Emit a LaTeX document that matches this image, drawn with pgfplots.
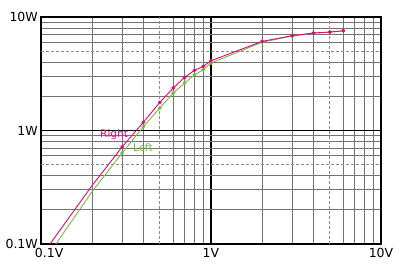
\documentclass[border=0pt]{standalone}
\usepackage{fontspec}
\setmainfont{DejaVu Sans}
\usepackage{pgfplots}
\pgfplotsset{compat=1.18}
\definecolor{rcol}{HTML}{E2067A}
\definecolor{lcol}{HTML}{72BE3C}
\begin{document}
\begin{tikzpicture}
\path[use as bounding box] (-41pt,-26pt) rectangle (359pt,244pt);
\begin{axis}[
 at={(0pt,0pt)}, anchor=south west,
 scale only axis, width=340pt, height=227pt,
 xmode=log, ymode=log,
 xmin=0.1, xmax=10, ymin=0.1, ymax=10,
 xtick={0.1,1,10}, xticklabels={\makebox[0pt][l]{\hspace{-6pt}0.1V},1V,10V},
 ytick={0.1,1,10}, yticklabels={0.1W,1W,10W},
 minor xtick={0.2,0.3,0.4,0.6,0.7,0.8,0.9,2,3,4,6,7,8,9},
 minor ytick={0.2,0.3,0.4,0.6,0.7,0.8,0.9,2,3,4,6,7,8,9},
 extra x ticks={0.5,5}, extra x tick labels={},
 extra y ticks={0.5,5}, extra y tick labels={},
 extra tick style={major grid style={black!45, dash pattern=on 3pt off 2pt, line width=0.8pt}},
 grid=both,
 minor grid style={black!55, line width=0.8pt},
 major grid style={black, line width=1.3pt},
 major tick length=0pt, minor tick length=0pt,
 axis line style={black, line width=1.3pt},
 tick label style={font=\fontsize{12.5}{14}\selectfont},
 xticklabel style={inner sep=0pt, yshift=-4pt},
 yticklabel style={inner sep=0pt, xshift=-3pt},
]
\addplot[lcol, line width=0.9pt, mark=*, mark size=1.4pt, mark indices={2,...,15}] coordinates {
(0.1,0.0645) (0.2,0.29) (0.3,0.634) (0.4,1.08) (0.5,1.58) (0.6,2.14) (0.7,2.62) (0.8,3.1) (0.9,3.43) (1,3.93) (2,6.0) (3,6.8) (4,7.2) (5,7.35) (6,7.55)};
\addplot[rcol, line width=0.9pt, mark=*, mark size=1.4pt, mark indices={2,...,15}] coordinates {
(0.1,0.0775) (0.2,0.328) (0.3,0.716) (0.4,1.18) (0.5,1.77) (0.6,2.37) (0.7,2.94) (0.8,3.39) (0.9,3.67) (1,4.12) (2,6.1) (3,6.84) (4,7.23) (5,7.37) (6,7.57)};
\node[text=rcol, font=\fontsize{10.5}{12}\selectfont] at (axis cs:0.269,0.927) {Right};
\node[text=lcol, font=\fontsize{10.5}{12}\selectfont] at (axis cs:0.398,0.713) {Left};
\end{axis}
\end{tikzpicture}
\end{document}
